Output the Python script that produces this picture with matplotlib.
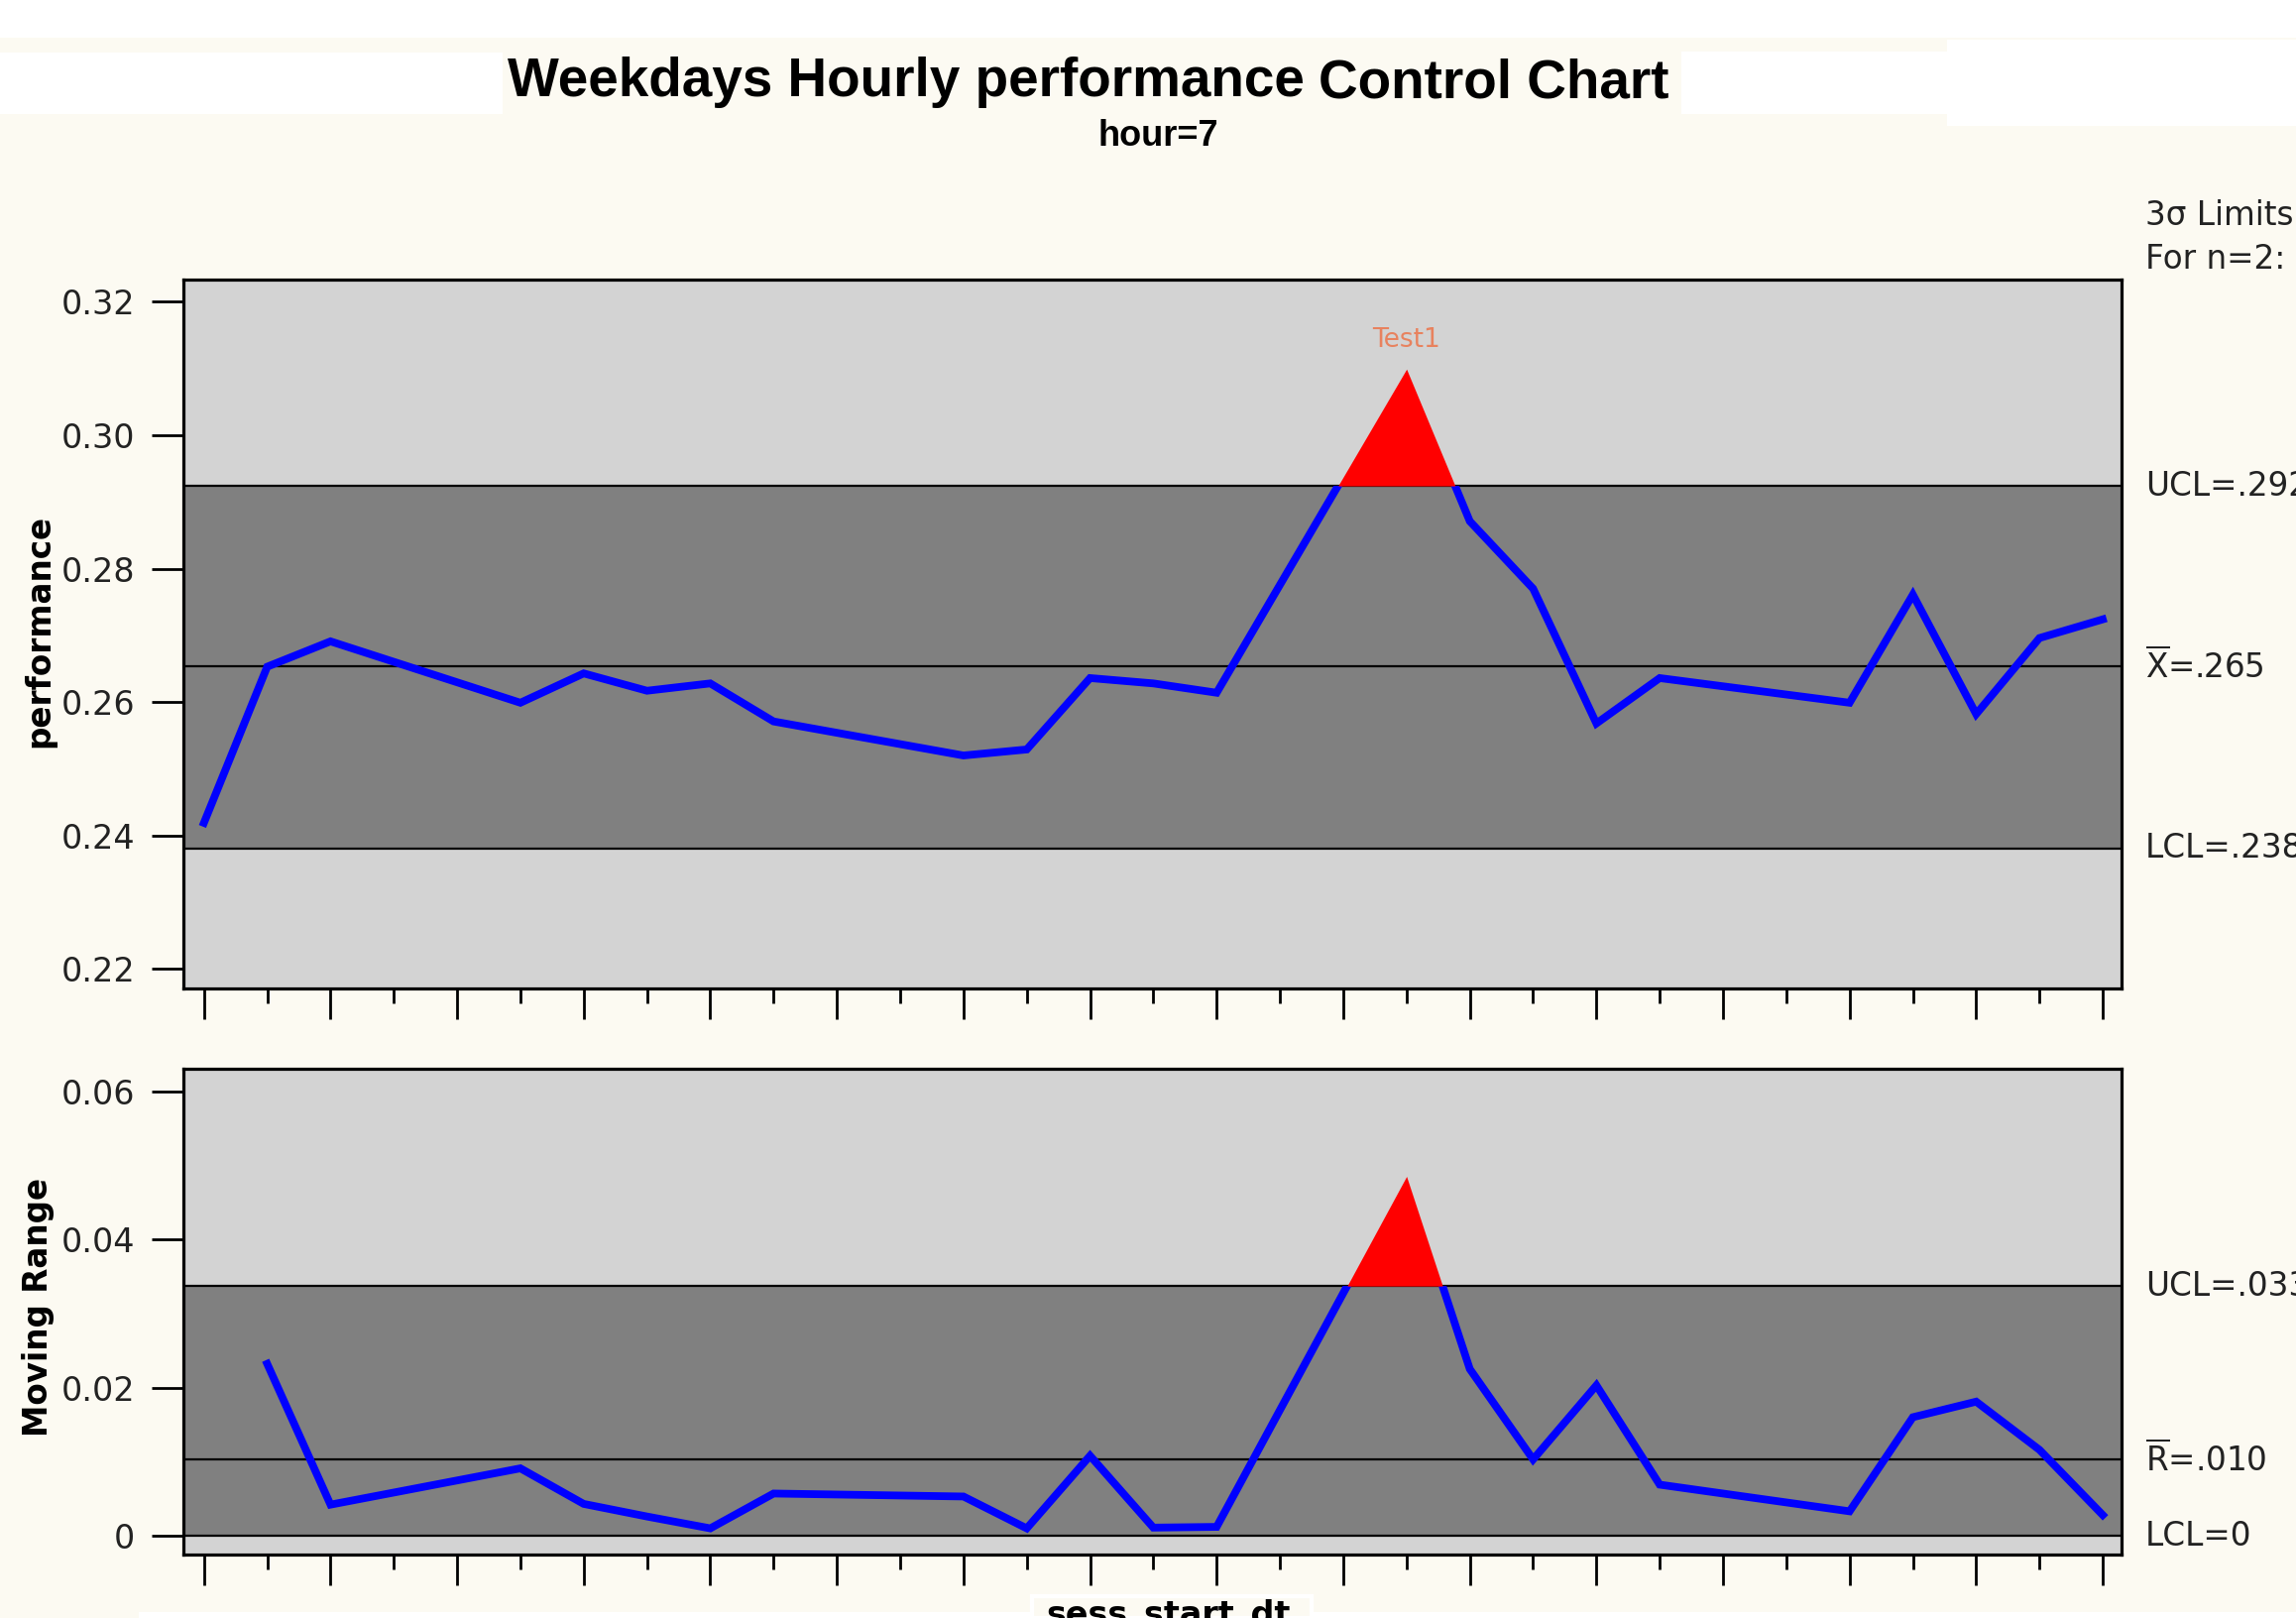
import numpy as np
import matplotlib
matplotlib.use("Agg")
import matplotlib.pyplot as plt
from matplotlib.patches import Rectangle
from matplotlib import font_manager

# ---------------- data ----------------
days = [0, 1, 2, 5, 6, 7, 8, 9, 12, 13, 14, 15, 16, 19, 20, 21, 22, 23, 26, 27, 28, 29, 30]
performance = [0.2419, 0.2653, 0.2691, 0.2599, 0.2643, 0.2617, 0.2628, 0.2571,
               0.2520, 0.2529, 0.2636, 0.2628, 0.2614, 0.3099, 0.2871, 0.2770,
               0.2568, 0.2636, 0.2599, 0.2761, 0.2582, 0.2696, 0.2724]
moving_range = [np.nan, 0.0232, 0.0042, 0.0091, 0.0043, 0.0026, 0.0010, 0.0057,
                0.0053, 0.0010, 0.0108, 0.0011, 0.0012, 0.0485, 0.0225, 0.0103,
                0.0203, 0.0069, 0.0033, 0.0160, 0.0181, 0.0116, 0.0028]

x_ucl, x_center, x_lcl = 0.2924, 0.2653, 0.2381
r_ucl, r_center, r_lcl = 0.0337, 0.0103, 0.0

perf_ticks = [0.22, 0.24, 0.26, 0.28, 0.30, 0.32]
mr_ticks = [0.0, 0.02, 0.04, 0.06]
mr_tick_labels = ["0", "0.02", "0.04", "0.06"]

title_left = "Weekdays Hourly performance"
title_right = "Control Chart"
subtitle = "hour=7"
ucl_x_label = "UCL=.292"
center_x_label = r"$\overline{\mathrm{X}}$=.265"
lcl_x_label = "LCL=.238"
ucl_r_label = "UCL=.033"
center_r_label = r"$\overline{\mathrm{R}}$=.010"
lcl_r_label = "LCL=0"

# ---------------- style ----------------
CREAM = "#FCFAF2"
LIGHT = "#D3D3D3"
DARK = "#808080"
BLUE = "#0000FF"

names = {f.name for f in font_manager.fontManager.ttflist}
if "Liberation Sans Narrow" in names:
    title_family, title_size, sub_size = "Liberation Sans Narrow", 47, 31
else:
    title_family, title_size, sub_size = "Liberation Sans", 39.5, 26

plt.rcParams["font.family"] = ["DejaVu Sans"]

fig = plt.figure(figsize=(23.16, 16.32), dpi=100, facecolor=CREAM)

# white decorative boxes as in the reference
W, H = 1568.0, 1105.0
def frect(x0, y0, x1, y1, **kw):
    fig.patches.append(Rectangle((x0 / W, 1 - y1 / H), (x1 - x0) / W, (y1 - y0) / H,
                                 transform=fig.transFigure, zorder=0, **kw))
frect(0, 0, 1568, 26, facecolor="white", edgecolor="none")
frect(0, 36, 343, 78, facecolor="white", edgecolor="none")
frect(1148, 35, 1330, 78, facecolor="white", edgecolor="none")
frect(1330, 27, 1568, 86, facecolor="white", edgecolor="none")
frect(95, 1101, 1568, 1105, facecolor="white", edgecolor="none")
frect(705, 1090, 896, 1105, facecolor=CREAM, edgecolor="white", linewidth=3)

ax1 = fig.add_axes([125 / W, 1 - 675 / H, (1449 - 125) / W, (675 - 191) / H])
ax2 = fig.add_axes([125 / W, 1 - 1062 / H, (1449 - 125) / W, (1062 - 730) / H])

def panel(ax, y, ucl, cl, lcl, ylim):
    y = np.asarray(y, dtype=float)
    x = np.asarray(days, dtype=float)
    ax.set_facecolor(LIGHT)
    ax.set_xlim(-0.33, 30.3)
    ax.set_ylim(*ylim)
    ax.axhspan(lcl, ucl, color=DARK, zorder=1, lw=0)
    for v in (ucl, cl, lcl):
        ax.axhline(v, color="black", lw=1.6, zorder=2)
    line, = ax.plot(x, y, color=BLUE, lw=5.6, zorder=3, solid_joinstyle="miter")
    clip = Rectangle((-5, ylim[0] - 1), 50, ucl - ylim[0] + 1, transform=ax.transData)
    line.set_clip_path(clip)
    m = ~np.isnan(y)
    ax.fill_between(x[m], y[m], ucl, where=y[m] > ucl, interpolate=True,
                    color="red", lw=0, zorder=4)
    for s in ax.spines.values():
        s.set_linewidth(2.3)
        s.set_zorder(6)
    ax.set_xticks(np.arange(0, 31, 2))
    ax.set_xticks(np.arange(1, 31, 2), minor=True)
    ax.tick_params(axis="x", which="major", direction="out", length=22, width=2,
                   labelbottom=False)
    ax.tick_params(axis="x", which="minor", direction="out", length=11, width=2)
    ax.tick_params(axis="y", direction="out", length=23, width=2, pad=12,
                   labelsize=24, labelcolor="#222222")
    return x, y

panel(ax1, performance, x_ucl, x_center, x_lcl, (0.2171, 0.3233))
ax1.set_yticks(perf_ticks)
ax1.set_yticklabels([f"{t:.2f}" for t in perf_ticks])

panel(ax2, moving_range, r_ucl, r_center, r_lcl, (-0.0026, 0.0630))
ax2.set_yticks(mr_ticks)
ax2.set_yticklabels(mr_tick_labels)

# Test1 annotation
peak_i = int(np.argmax(performance))
ax1.text(days[peak_i], performance[peak_i] + 0.0024, "Test1", color="#E8825E",
         fontsize=19, ha="center", va="bottom", zorder=7)

# right-hand limit labels
lab_kw = dict(fontsize=23.5, color="#222222", va="center", ha="left", clip_on=False)
for ax, items in ((ax1, ((x_ucl, ucl_x_label), (x_center, center_x_label), (x_lcl, lcl_x_label))),
                  (ax2, ((r_ucl, ucl_r_label), (r_center, center_r_label), (r_lcl, lcl_r_label)))):
    tr = matplotlib.transforms.blended_transform_factory(ax.transAxes, ax.transData)
    for v, t in items:
        ax.text(1.0121, v, t, transform=tr, **lab_kw)

fig.text(1465 / W, 1 - 147 / H, "3\u03c3 Limits", fontsize=23.5, color="#222222", va="center")
fig.text(1465 / W, 1 - 177 / H, "For n=2:", fontsize=23.5, color="#222222", va="center")

# axis labels
fig.text(27 / W, 1 - 431 / H, "performance", rotation=90, fontsize=23.5,
         fontweight="bold", ha="center", va="center")
fig.text(26 / W, 1 - 893 / H, "Moving Range", rotation=90, fontsize=23.5,
         fontweight="bold", ha="center", va="center")
fig.text(798 / W, 1 - 1092 / H, "sess_start_dt", fontsize=24, fontweight="bold",
         ha="center", va="top")

# titles
fig.text(619 / W, 1 - 56 / H, title_left, fontsize=title_size, fontweight="bold",
         family=title_family, ha="center", va="center")
fig.text(1020 / W, 1 - 57 / H, title_right, fontsize=title_size, fontweight="bold",
         family=title_family, ha="center", va="center")
fig.text(791 / W, 1 - 93 / H, subtitle, fontsize=sub_size, fontweight="bold",
         family=title_family, ha="center", va="center")

fig.savefig("out.png", dpi=100, facecolor=CREAM)
